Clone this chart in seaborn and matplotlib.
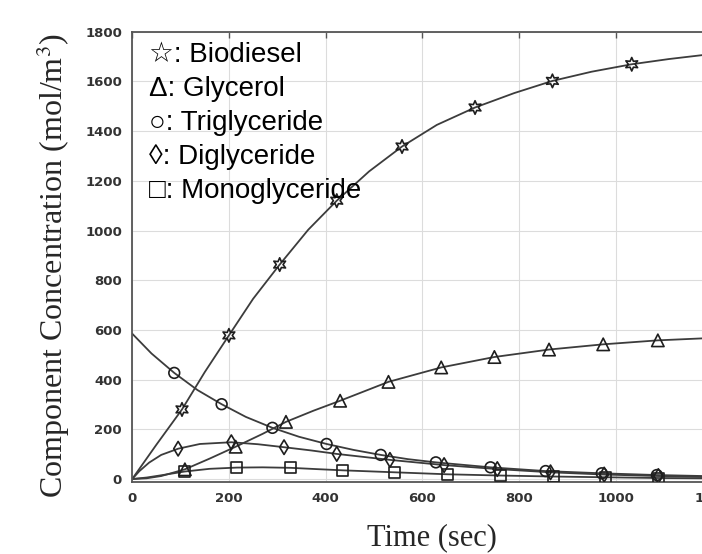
import matplotlib
matplotlib.use('Agg')
import matplotlib.pyplot as plt
import seaborn as sns
import pandas as pd

# Кривые, время в секундах, концентрация в моль/м3
biodiesel_t = [0, 50, 103, 150, 200, 250, 305, 364, 423, 490, 558, 630, 709, 790, 869, 950, 1033, 1110, 1180]
biodiesel_c = [0, 138, 280, 430, 578, 725, 863, 1003, 1120, 1238, 1338, 1425, 1495, 1553, 1602, 1639, 1669, 1690, 1706]
glycerol_t = [0, 30, 60, 109, 160, 214, 270, 318, 375, 430, 530, 639, 749, 862, 974, 1087, 1180]
glycerol_c = [0, 3, 12, 39, 82, 130, 182, 230, 275, 315, 391, 449, 491, 521, 542, 558, 566]
triglyceride_t = [0, 40, 87, 135, 185, 235, 290, 345, 402, 458, 514, 570, 628, 741, 855, 971, 1085, 1180]
triglyceride_c = [585, 505, 427, 358, 301, 250, 206, 170, 141, 117, 97, 80, 67, 47, 32, 23, 16, 12]
diglyceride_t = [0, 15, 35, 60, 95, 140, 205, 260, 314, 370, 423, 533, 645, 755, 865, 976, 1088, 1180]
diglyceride_c = [0, 32, 66, 97, 122, 141, 148, 140, 128, 115, 101, 77, 56, 40, 27, 18, 12, 8]
monoglyceride_t = [0, 30, 60, 108, 160, 216, 270, 328, 380, 435, 543, 652, 762, 871, 979, 1089, 1180]
monoglyceride_c = [0, 6, 15, 30, 41, 46, 47, 45, 40, 35, 27, 19, 14, 10, 7, 4, 3]

# Маркеры
biodiesel_mt = [103, 200, 305, 423, 558, 709, 869, 1033]
biodiesel_mc = [280, 578, 863, 1120, 1338, 1495, 1602, 1669]
glycerol_mt = [109, 214, 318, 430, 530, 639, 749, 862, 974, 1087]
glycerol_mc = [39, 130, 230, 315, 391, 449, 491, 521, 542, 558]
triglyceride_mt = [87, 185, 290, 402, 514, 628, 741, 855, 971, 1085]
triglyceride_mc = [427, 301, 206, 141, 97, 67, 47, 32, 23, 16]
diglyceride_mt = [95, 205, 314, 423, 533, 645, 755, 865, 976, 1088]
diglyceride_mc = [122, 148, 128, 101, 77, 56, 40, 27, 18, 12]
monoglyceride_mt = [108, 216, 328, 435, 543, 652, 762, 871, 979, 1089]
monoglyceride_mc = [30, 46, 45, 35, 27, 19, 14, 10, 7, 4]

legend_labels = ['\u2606: Biodiesel', '\u0394: Glycerol', '\u25cb: Triglyceride',
                 '\u25ca: Diglyceride', '\u25a1: Monoglyceride']

sns.set_style('whitegrid')
plt.rcParams['mathtext.fontset'] = 'stix'

W, H = 702, 554
fig = plt.figure(figsize=(W / 100, H / 100), dpi=100)
left, right, top, bottom = 131.7, 712.5, 31.7, 482.0
ax = fig.add_axes([left / W, 1 - bottom / H, (right - left) / W, (bottom - top) / H])

line_col = '#3c3c3c'
edge_col = '#1e1e1e'
series = [
    (biodiesel_t, biodiesel_c, biodiesel_mt, biodiesel_mc, (6, 1, 0), 95),
    (glycerol_t, glycerol_c, glycerol_mt, glycerol_mc, '^', 80),
    (triglyceride_t, triglyceride_c, triglyceride_mt, triglyceride_mc, 'o', 60),
    (diglyceride_t, diglyceride_c, diglyceride_mt, diglyceride_mc, 'd', 55),
    (monoglyceride_t, monoglyceride_c, monoglyceride_mt, monoglyceride_mc, 's', 60),
]
for t, c, mt, mc, mk, sz in series:
    df = pd.DataFrame({'t': t, 'c': c})
    sns.lineplot(data=df, x='t', y='c', ax=ax, color=line_col, linewidth=1.3,
                 sort=False, estimator=None)
    dm = pd.DataFrame({'t': mt, 'c': mc})
    sns.scatterplot(data=dm, x='t', y='c', ax=ax, marker=mk, s=sz,
                    facecolors='none', edgecolor=edge_col, linewidth=1.2, zorder=3)

ax.set_xlim(-1, 1200)
ax.set_ylim(-12, 1797)
ax.set_xticks(range(0, 1201, 200))
ax.set_yticks(range(0, 1801, 200))
ax.grid(True, color='#dcdcdc', linewidth=0.8)
for side in ['left', 'bottom', 'top']:
    ax.spines[side].set_visible(True)
    ax.spines[side].set_color('#555555')
    ax.spines[side].set_linewidth(1.3)
ax.tick_params(direction='in', length=4, width=1, color='#555555', top=True,
               labelsize=9.5, labelcolor='#333333', pad=7)
for lab in ax.get_xticklabels() + ax.get_yticklabels():
    lab.set_fontweight('bold')

ax.set_xlabel('Time (sec)', family='Liberation Serif', fontsize=22)
ax.set_ylabel('Component Concentration (mol/m$^3$)', family='Liberation Serif', fontsize=23)
ax.xaxis.set_label_coords((432 - left) / (right - left), (bottom - 523) / (bottom - top))
ax.yaxis.set_label_coords((72 - left) / (right - left), (bottom - 265) / (bottom - top))

# Легенда в виде текста
y0, dy = 55, 34
for i, lab in enumerate(legend_labels):
    fig.text(149 / W, 1 - (y0 + i * dy) / H, lab, family=['Liberation Sans', 'DejaVu Sans'],
             fontsize=20, va='center', ha='left', color='black')

fig.savefig('out.png', dpi=100)
plt.close(fig)
